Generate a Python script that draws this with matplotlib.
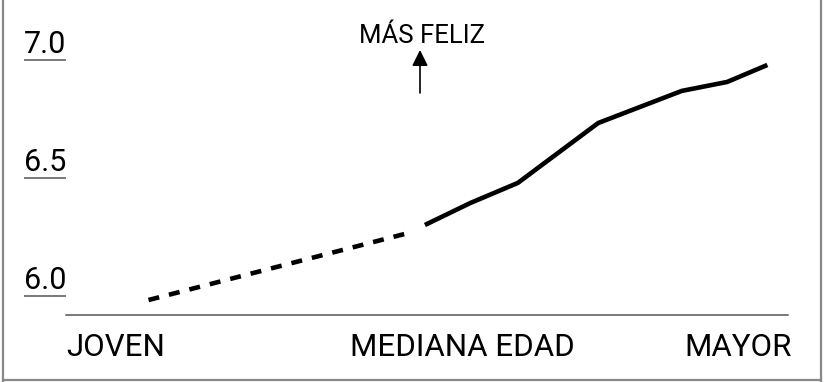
import matplotlib.pyplot as plt
from matplotlib.lines import Line2D
import matplotlib.transforms as mtransforms

plt.rcParams['font.family'] = ['Roboto', 'DejaVu Sans']

# age (years) vs happiness score
dashed_age = [23.0, 48.2]
dashed_val = [5.983, 6.267]
solid_age = [49.8, 54.2, 58.8, 66.6, 74.7, 79.1, 83.0]
solid_val = [6.301, 6.394, 6.479, 6.733, 6.869, 6.907, 6.979]

y_ticks = [6.0, 6.5, 7.0]
y_labels = ['6.0', '6.5', '7.0']
x_labels = ['JOVEN', 'MEDIANA EDAD', 'MAYOR']

fig = plt.figure(figsize=(8.25, 3.82), dpi=100)
ax = fig.add_axes([66 / 825, 67 / 382, 722 / 825, 315 / 382])
ax.set_xlim(15, 85)
ax.set_ylim(5.9195, 7.2542)

ax.plot(dashed_age, dashed_val, color='black', lw=3.3, dashes=(2.4, 2.2))
ax.plot(solid_age, solid_val, color='black', lw=3.3, solid_capstyle='butt')

for s in ['top', 'right', 'left']:
    ax.spines[s].set_visible(False)
ax.spines['bottom'].set_color('#555555')
ax.spines['bottom'].set_linewidth(1.1)

# underlines under the y labels are the tick marks
ax.set_yticks(y_ticks)
ax.set_yticklabels([])
ax.tick_params(axis='y', length=30, width=1.1, color='#555555', direction='out')
ax.set_xticks([])

lab_trans = mtransforms.offset_copy(ax.get_yaxis_transform(), fig=fig, x=0, y=7, units='dots')
for v, lab in zip(y_ticks, y_labels):
    ax.text(-0.0582, v, lab, transform=lab_trans, ha='left', va='baseline',
            fontsize=22, color='black')

x_pos = [0.0, 0.5484, 1.0055]
x_ha = ['left', 'center', 'right']
for p, lab, ha in zip(x_pos, x_labels, x_ha):
    ax.text(p, -0.130, lab, transform=ax.transAxes, ha=ha, va='baseline',
            fontsize=22.5, color='black', clip_on=False)

ax.annotate('', xy=(0.4903, 0.8413), xytext=(0.4903, 0.7048), xycoords='axes fraction',
            arrowprops=dict(arrowstyle='-|>', color='black', lw=1.2,
                            mutation_scale=24, shrinkA=0, shrinkB=0))
ax.text(0.4924, 0.8635, 'MÁS FELIZ', transform=ax.transAxes, ha='center',
        va='baseline', fontsize=18.5, color='black')

# gray frame on left, right and bottom
for xs, ys in [([3 / 825, 3 / 825], [0, 1]), ([821 / 825, 821 / 825], [0, 1]),
               ([3 / 825, 821 / 825], [2 / 382, 2 / 382])]:
    fig.add_artist(Line2D(xs, ys, color='#888888', lw=1.6))

fig.savefig('out.png', dpi=100)
